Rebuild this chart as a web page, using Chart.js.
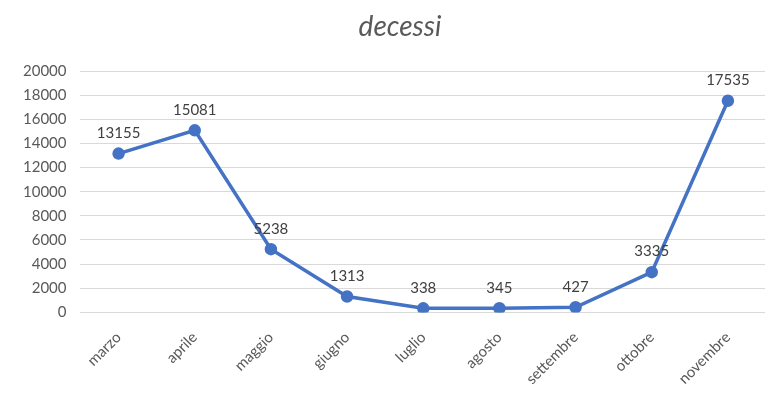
<!DOCTYPE html>
<html>
<head>
<meta charset="utf-8">
<script src="https://cdn.jsdelivr.net/npm/chart.js@4/dist/chart.umd.min.js"></script>
<style>
  html, body { margin: 0; padding: 0; background: #fff; overflow: hidden; }
  canvas { display: block; }
</style>
</head>
<body>
<!-- the original picture is cropped on the right, so the plot runs past the window -->
<canvas id="chart_canvas" width="774" height="410"></canvas>
<script>
// chart data
var mesi = ['marzo', 'aprile', 'maggio', 'giugno', 'luglio', 'agosto', 'settembre', 'ottobre', 'novembre'];
var decessi = [13155, 15081, 5238, 1313, 338, 345, 427, 3335, 17535];
var titolo = 'decessi';

var grigio = '#595959';
var blu = '#4472C4';

// draws the value above each point
var valueLabels = {
    id: 'valueLabels',
    afterDatasetsDraw: function(chart) {
        var ctx = chart.ctx;
        var meta = chart.getDatasetMeta(0);
        ctx.save();
        ctx.font = '15px Lato';
        ctx.fillStyle = '#404040';
        ctx.textAlign = 'center';
        ctx.textBaseline = 'bottom';
        meta.data.forEach(function(pt, i) {
            ctx.fillText(String(decessi[i]), pt.x, pt.y - 13);
        });
        ctx.restore();
    }
};

// title centred over the plot like the original
var plotTitle = {
    id: 'plotTitle',
    afterDraw: function(chart) {
        var ctx = chart.ctx;
        ctx.save();
        ctx.font = 'italic 28px Lato';
        ctx.fillStyle = grigio;
        ctx.textAlign = 'center';
        ctx.textBaseline = 'middle';
        ctx.fillText(titolo, 400, 27);
        ctx.restore();
    }
};

new Chart(document.getElementById('chart_canvas'), {
    type: 'line',
    data: {
        labels: mesi,
        datasets: [{
            data: decessi,
            borderColor: blu,
            backgroundColor: blu,
            borderWidth: 3.5,
            pointRadius: 4.5,
            pointHoverRadius: 4.5,
            tension: 0
        }]
    },
    options: {
        responsive: false,
        animation: false,
        layout: { padding: { top: 71, right: 0, left: 9, bottom: 14 } },
        plugins: {
            legend: { display: false },
            tooltip: { enabled: false }
        },
        scales: {
            x: {
                offset: true,
                grid: { display: false },
                border: { display: false },
                ticks: {
                    color: grigio,
                    font: { family: 'Lato', size: 15 },
                    minRotation: 45,
                    maxRotation: 45,
                    padding: 8
                }
            },
            y: {
                min: 0,
                max: 20000,
                grid: { color: '#d9d9d9', lineWidth: 1, drawTicks: false },
                border: { display: false },
                ticks: {
                    stepSize: 2000,
                    color: grigio,
                    font: { family: 'Lato', size: 15 },
                    padding: 14,
                    callback: function(v) { return String(v); }
                }
            }
        }
    },
    plugins: [valueLabels, plotTitle]
});
</script>
</body>
</html>
